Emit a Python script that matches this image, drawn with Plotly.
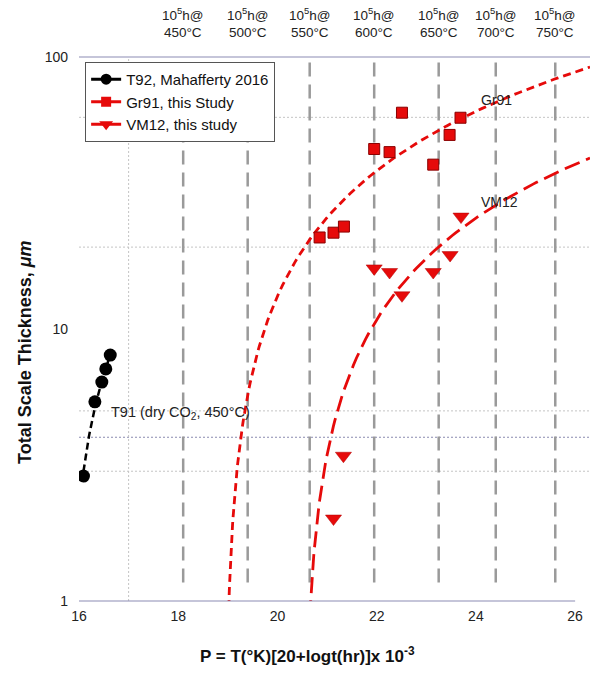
import numpy as np
import plotly.graph_objects as go

# --- data -------------------------------------------------------------
t92_p = [16.09, 16.32, 16.46, 16.54, 16.63]
t92_y = [2.88, 5.40, 6.38, 7.13, 8.02]

gr91_p = [20.85, 21.13, 21.34, 21.95, 22.26, 22.51, 23.14, 23.47, 23.69]
gr91_y = [21.7, 22.6, 23.8, 45.9, 44.7, 62.4, 40.2, 51.7, 59.8]

vm12_p = [21.13, 21.33, 21.95, 22.26, 22.51, 23.14, 23.48, 23.70]
vm12_y = [2.01, 3.42, 16.7, 16.2, 13.3, 16.2, 18.7, 25.9]

# 10^5 h isotherms (Larson-Miller parameter positions)
iso_temps = ["450", "500", "550", "600", "650", "700", "750"]
iso_p = [18.1, 19.4, 20.65, 21.95, 23.25, 24.4, 25.6]

x_ticks = [16, 18, 20, 22, 24, 26]
y_ticks = [1, 10, 100]
h_grid = [3, 4, 5, 20, 60]
v_grid = [17]

X_MAX = 26.3
RED = "#e60a0a"
FONT = "Liberation Sans, Arial, sans-serif"

W, H = 593, 674
ML, MR, MT, MB = 79, 3, 57, 73


def px_to_paper(px, py):
    """Convert a pixel position on the page into paper coordinates."""
    return (px - ML) / (W - ML - MR), (H - MB - py) / (H - MT - MB)


fig = go.Figure()

# dotted gridlines
for g in h_grid:
    fig.add_trace(go.Scatter(
        x=[16, X_MAX], y=[g, g], mode="lines", showlegend=False, hoverinfo="skip",
        line=dict(color="#8a8ab0" if g == 4 else "#c4c4c4", width=1.2 if g == 4 else 1,
                  dash="2px,2px")))
for g in v_grid:
    fig.add_trace(go.Scatter(
        x=[g, g], y=[1, 100], mode="lines", showlegend=False, hoverinfo="skip",
        line=dict(color="#c4c4c4", width=1, dash="2px,2px")))

# gray dashed isotherm lines
for p in iso_p:
    fig.add_trace(go.Scatter(
        x=[p, p], y=[1.17, 100], mode="lines", showlegend=False, hoverinfo="skip",
        line=dict(color="#9a9a9a", width=2.5, dash="14px,8px")))


def linear_fit(px, py):
    m, b = np.polyfit(px, py, 1)
    return m, b


# T92 trend (over the data span)
m, b = linear_fit(t92_p, t92_y)
xs = np.linspace(min(t92_p), max(t92_p), 60)
fig.add_trace(go.Scatter(x=xs, y=m * xs + b, mode="lines", showlegend=False,
                         hoverinfo="skip",
                         line=dict(color="black", width=2.5, dash="7px,4px")))

# Gr91 trend
m, b = linear_fit(gr91_p, gr91_y)
x0 = -b / m
xs = np.concatenate([x0 + np.geomspace(0.002, 1.0, 120), np.linspace(x0 + 1.0, X_MAX, 80)])
fig.add_trace(go.Scatter(x=xs, y=m * xs + b, mode="lines", showlegend=False,
                         hoverinfo="skip",
                         line=dict(color=RED, width=2.8, dash="8px,5px")))

# VM12 trend
m, b = linear_fit(vm12_p, vm12_y)
x0 = -b / m
xs = np.concatenate([x0 + np.geomspace(0.002, 1.0, 120), np.linspace(x0 + 1.0, X_MAX, 80)])
fig.add_trace(go.Scatter(x=xs, y=m * xs + b, mode="lines", showlegend=False,
                         hoverinfo="skip",
                         line=dict(color=RED, width=2.8, dash="16px,7px")))

# data markers
fig.add_trace(go.Scatter(x=t92_p, y=t92_y, mode="markers", showlegend=False,
                         marker=dict(symbol="circle", size=13, color="black")))
fig.add_trace(go.Scatter(x=gr91_p, y=gr91_y, mode="markers", showlegend=False,
                         marker=dict(symbol="square", size=11, color=RED,
                                     line=dict(color="#8a0000", width=1))))
fig.add_trace(go.Scatter(x=vm12_p, y=vm12_y, mode="markers", showlegend=False,
                         marker=dict(symbol="triangle-down", size=14, color=RED,
                                     line=dict(color="#b00000", width=0.5))))

# legend entries
fig.add_trace(go.Scatter(x=[None], y=[None], mode="lines+markers",
                         name="T92, Mahafferty 2016",
                         line=dict(color="black", width=3),
                         marker=dict(symbol="circle", size=11, color="black")))
fig.add_trace(go.Scatter(x=[None], y=[None], mode="lines+markers",
                         name="Gr91, this Study",
                         line=dict(color=RED, width=3),
                         marker=dict(symbol="square", size=10, color=RED)))
fig.add_trace(go.Scatter(x=[None], y=[None], mode="lines+markers",
                         name="VM12, this study",
                         line=dict(color=RED, width=3),
                         marker=dict(symbol="triangle-down", size=12, color=RED)))

# axis frame lines
fig.add_shape(type="line", xref="x", yref="paper", x0=16, x1=26, y0=0, y1=0,
              line=dict(color="#8c8cb4", width=1.2))
fig.add_shape(type="line", xref="paper", yref="paper", x0=0, x1=1, y0=1, y1=1,
              line=dict(color="#8c8cb4", width=1.2))

# isotherm labels
for p, t in zip(iso_p, iso_temps):
    fig.add_annotation(x=p, y=1, xref="x", yref="paper", yanchor="bottom",
                       yshift=15, showarrow=False, align="center",
                       text=f"10<sup>5</sup>h@<br>{t}°C",
                       font=dict(family=FONT, size=13.5, color="#222"))

fig.add_annotation(x=24.41, y=np.log10(69.5), text="Gr91", showarrow=False,
                   font=dict(family=FONT, size=14, color="#222"))
fig.add_annotation(x=24.47, y=np.log10(29.3), text="VM12", showarrow=False,
                   font=dict(family=FONT, size=14, color="#222"))
fig.add_annotation(x=16.6, y=np.log10(4.91), xanchor="left",
                   text="T91 (dry CO<sub>2</sub>, 450°C)", showarrow=False,
                   font=dict(family=FONT, size=14.5, color="#222"))

# axis titles
yx, yy = px_to_paper(25, 352)
fig.add_annotation(x=yx, y=yy, xref="paper", yref="paper", showarrow=False,
                   xanchor="center", yanchor="middle", textangle=-90,
                   text="<b>Total Scale Thickness, <i>μm</i></b>",
                   font=dict(family=FONT, size=18, color="#111"))
xx, xy = px_to_paper(307, 655)
fig.add_annotation(x=xx, y=xy, xref="paper", yref="paper", showarrow=False,
                   xanchor="center", yanchor="middle",
                   text="<b>P = T(°K)[20+logt(hr)]x 10<sup>-3</sup></b>",
                   font=dict(family=FONT, size=17, color="#111"))

fig.update_layout(
    width=W, height=H,
    margin=dict(l=ML, r=MR, t=MT, b=MB),
    paper_bgcolor="white", plot_bgcolor="white",
    font=dict(family=FONT, size=14, color="#222"),
    legend=dict(x=0.012, y=0.991, xanchor="left", yanchor="top",
                bgcolor="white", bordercolor="#555", borderwidth=1,
                font=dict(family=FONT, size=15, color="#111")),
    xaxis=dict(range=[16, X_MAX], tickvals=x_ticks, showgrid=False, zeroline=False,
               showline=False, ticks="", ticklabelstandoff=5,
               tickfont=dict(family=FONT, size=14, color="#222")),
    yaxis=dict(type="log", range=[0, 2], tickvals=y_ticks, ticktext=["1", "10", "100"],
               showgrid=False, zeroline=False, showline=False, ticks="",
               ticklabelstandoff=10,
               tickfont=dict(family=FONT, size=14, color="#222")),
)

fig.write_html("out.html")
